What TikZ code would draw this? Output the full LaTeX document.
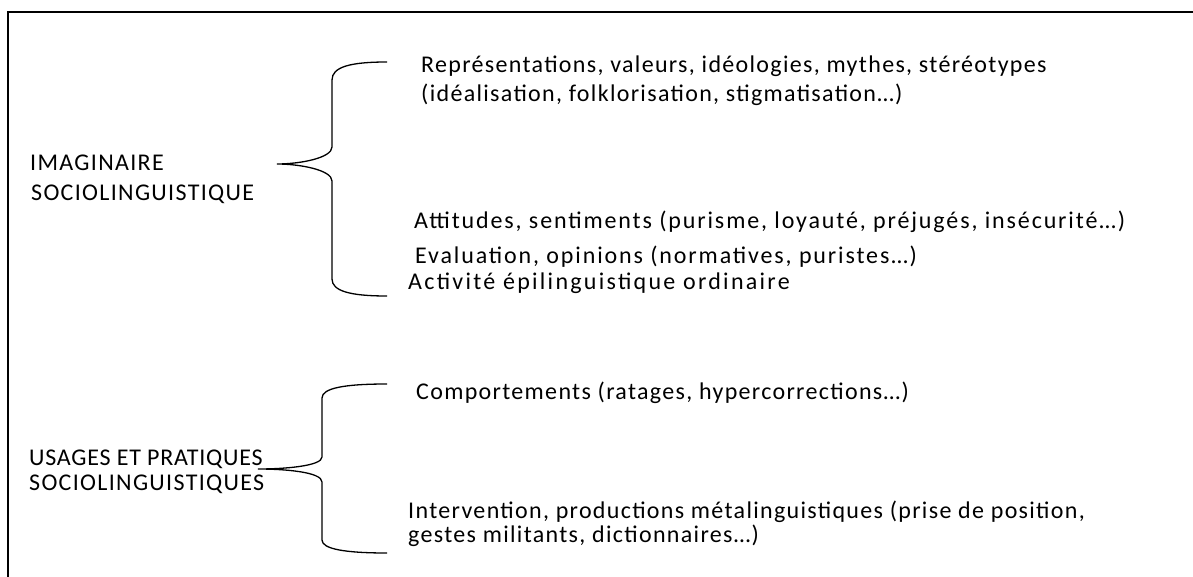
\documentclass[tikz,border=0pt]{standalone}
\usepackage{fontspec}
\setmainfont{Carlito}
\newfontfamily\wide[LetterSpace=5.5]{Carlito}
\newfontfamily\wider[LetterSpace=7.8]{Carlito}
\newfontfamily\widest[LetterSpace=9.5]{Carlito}
\newfontfamily\narrow[LetterSpace=3.2]{Carlito}
\begin{document}
\begin{tikzpicture}[x=1pt,y=-1pt,
  lbl/.style={anchor=base west,inner sep=0pt,font=\wide\fontsize{24}{28}\selectfont},
  lblw/.style={lbl,font=\wider\fontsize{24}{28}\selectfont},
  lblx/.style={lbl,font=\widest\fontsize{24}{28}\selectfont},
  lbln/.style={lbl,font=\narrow\fontsize{24}{28}\selectfont},
  brace/.style={line width=1.3pt},
  frame/.style={line width=1.5pt}]
\useasboundingbox (0,0) rectangle (1193,577);
\draw[frame] (8,577) -- (8,12) -- (1193,12);
% brace 1
\draw[brace] (387,62) .. controls (350,62) and (332,67) .. (332,80)
  -- (332,147) .. controls (332,158) and (300,164) .. (277,164)
  .. controls (300,164) and (332,170) .. (332,181)
  -- (332,279) .. controls (332,291) and (350,296) .. (387,296);
% brace 2
\draw[brace] (387,384) .. controls (345,384) and (322,388) .. (322,398)
  -- (322,457) .. controls (322,466) and (285,469) .. (258,469)
  .. controls (285,469) and (322,472) .. (322,482)
  -- (322,540) .. controls (322,549) and (345,553) .. (387,553);
\node[lbl] (im1) at (30,171) {IMAGINAIRE};
\node[lbl] (im2) at (31,201) {SOCIOLINGUISTIQUE};
\node[lbl] (r1) at (421,73) {Représentations, valeurs, idéologies, mythes, stéréotypes};
\node[lbl] (r2) at (421,102) {(idéalisation, folklorisation, stigmatisation…)};
\node[lblw] (a1) at (414,229) {Attitudes, sentiments (purisme, loyauté, préjugés, insécurité…)};
\node[lblw] (e1) at (415,264) {Evaluation, opinions (normatives, puristes…)};
\node[lblx] (ac) at (408,289) {Activité épilinguistique ordinaire};
\node[lbln] (u1) at (29,465) {USAGES ET PRATIQUES};
\node[lbl] (u2) at (29,490) {SOCIOLINGUISTIQUES};
\node[lbl] (c1) at (416,399) {Comportements (ratages, hypercorrections…)};
\node[lbl] (i1) at (408,518) {Intervention, productions métalinguistiques (prise de position,};
\node[lbl] (i2) at (408,542) {gestes militants, dictionnaires…)};
\end{tikzpicture}
\end{document}
